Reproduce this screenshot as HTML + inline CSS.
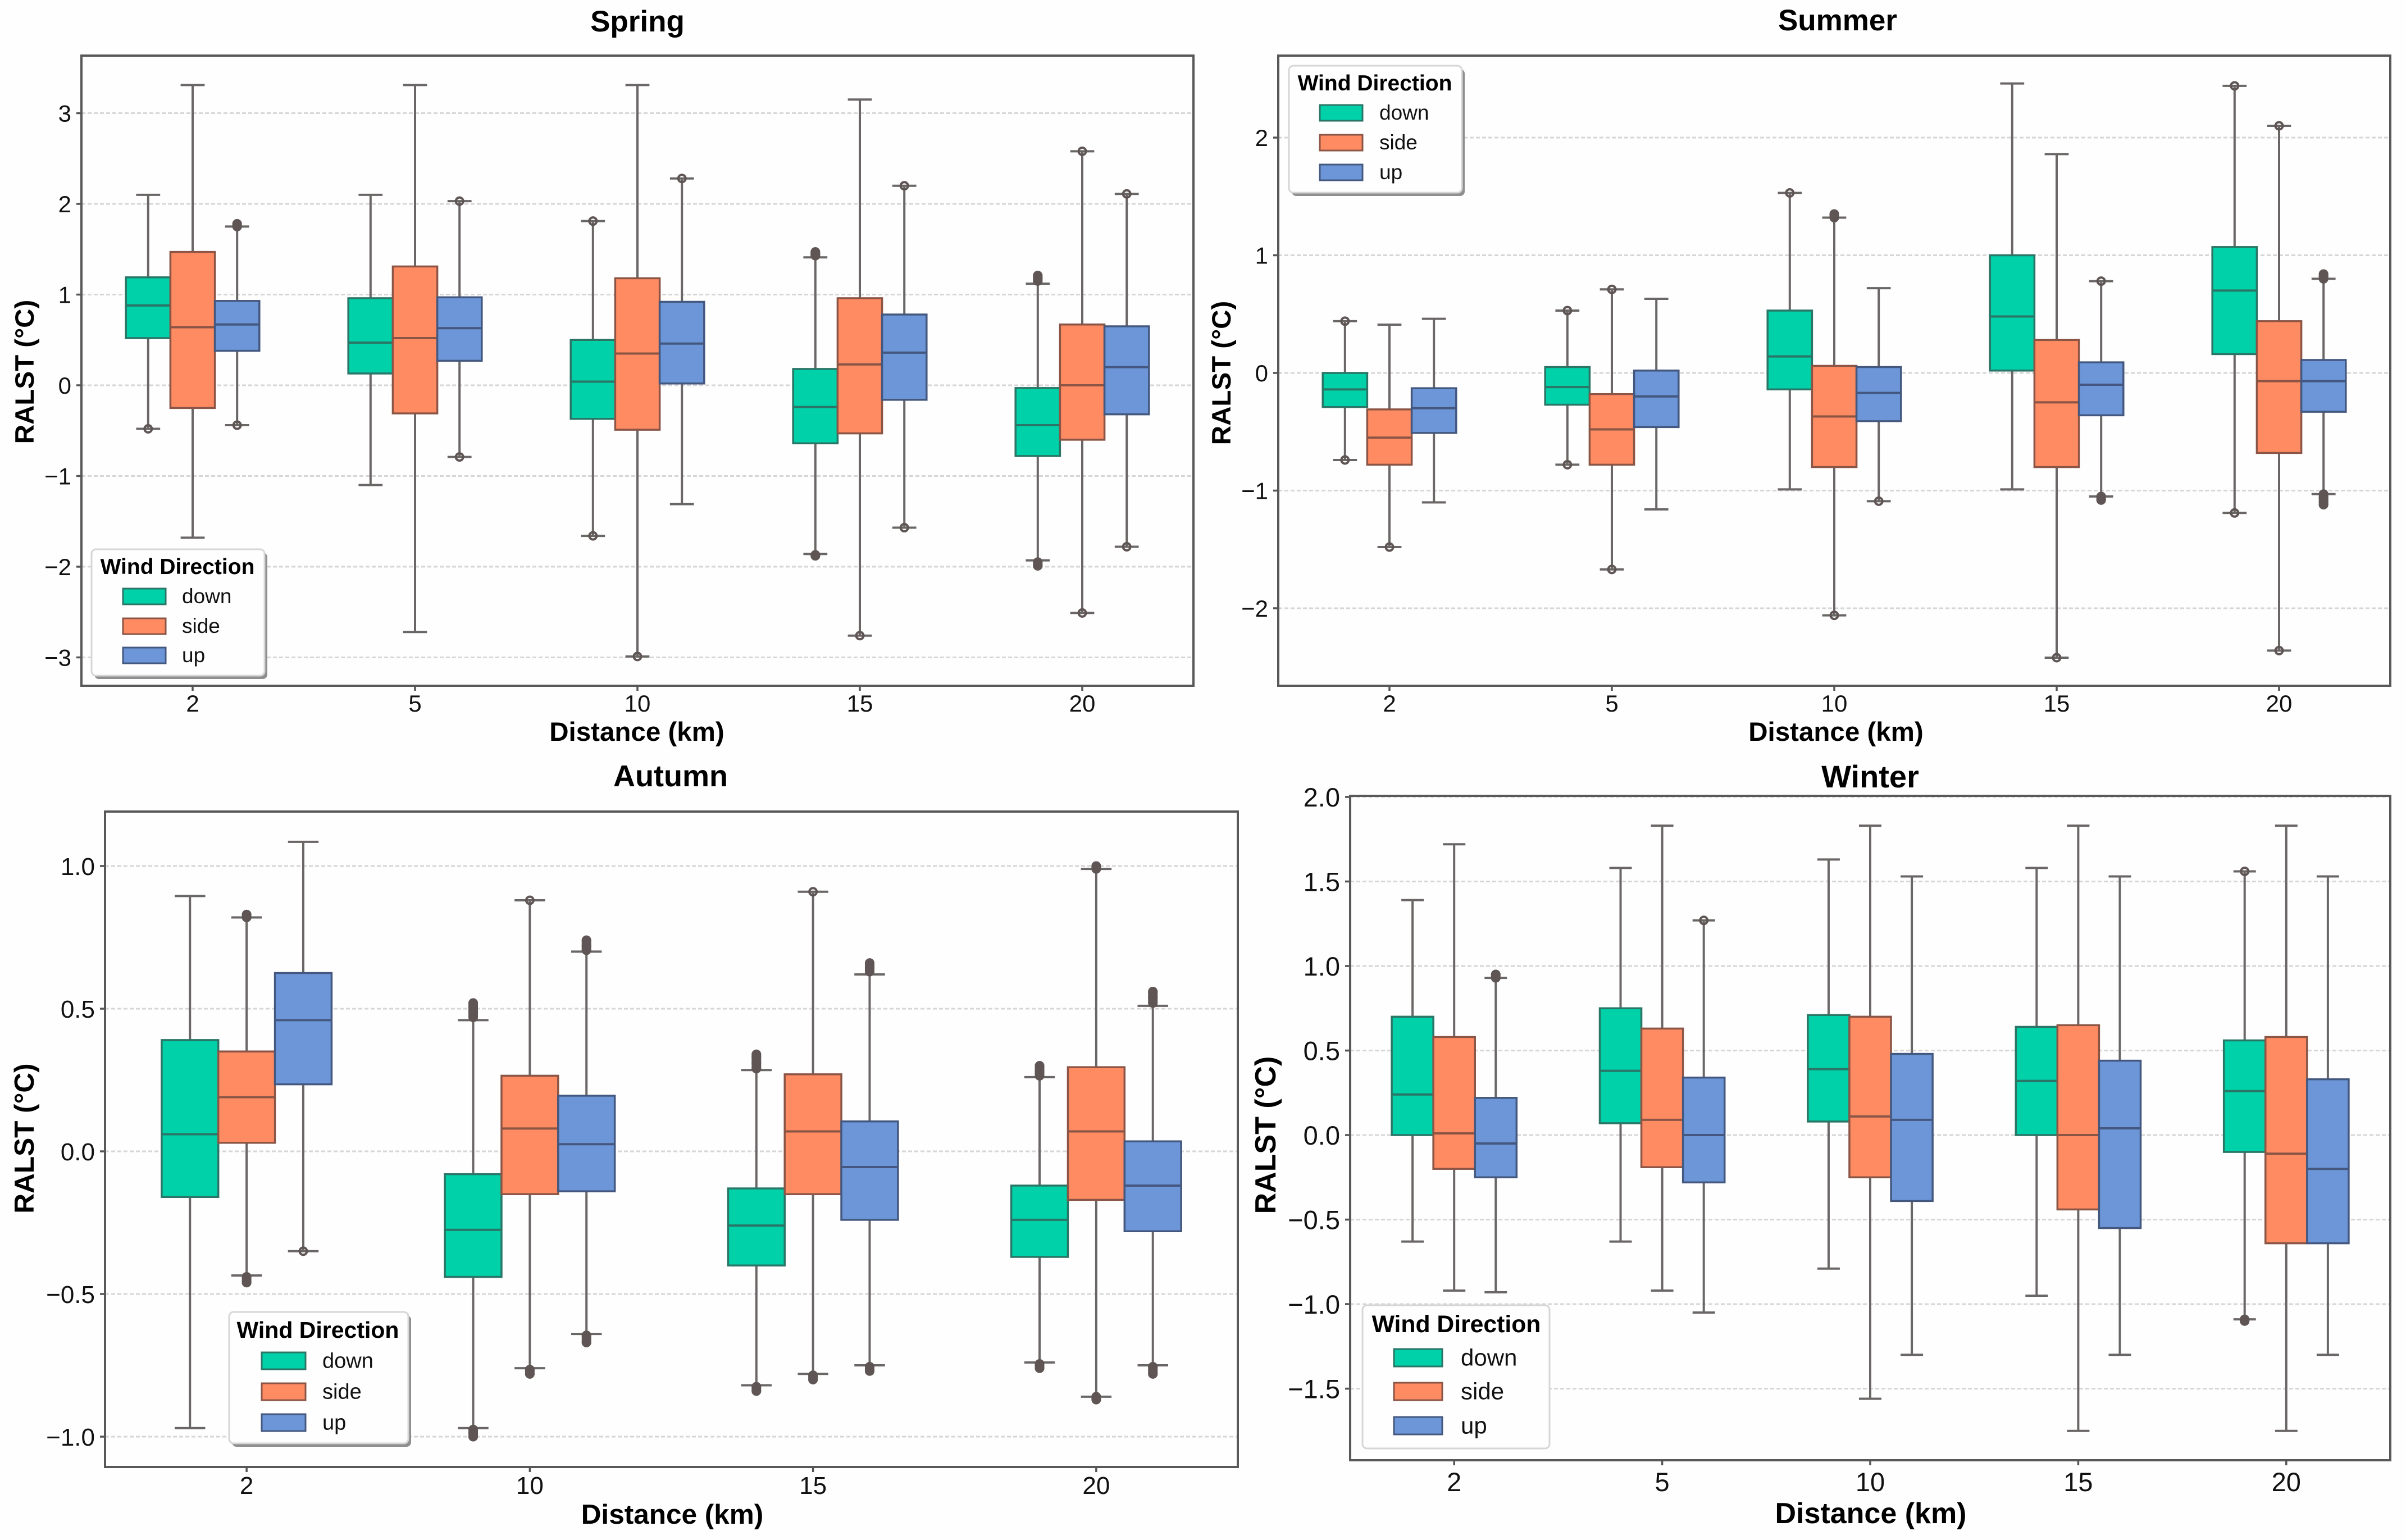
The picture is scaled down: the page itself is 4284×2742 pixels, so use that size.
<!DOCTYPE html>
<html lang="en">
<head>
<meta charset="utf-8">
<title>RALST by distance and wind direction</title>
<style>
html,body{margin:0;padding:0;background:#fefefe;}
svg{display:block;font-family:"Liberation Sans",Arial,sans-serif;}
</style>
</head>
<body>
<svg id="chart" xmlns="http://www.w3.org/2000/svg" width="4284" height="2742" viewBox="0 0 4284 2742"></svg>
<script>
// Each box row: [lower whisker, Q1, median, Q3, upper whisker], one row per distance.
const springCategories = ['2', '5', '10', '15', '20'];
const springTicks = [3, 2, 1, 0, -1, -2, -3];
const springDown = [[-0.48, 0.52, 0.88, 1.19, 2.10], [-1.10, 0.13, 0.47, 0.96, 2.10], [-1.66, -0.37, 0.04, 0.50, 1.81], [-1.86, -0.64, -0.24, 0.18, 1.41], [-1.93, -0.78, -0.44, -0.03, 1.12]];
const springSide = [[-1.68, -0.25, 0.64, 1.47, 3.31], [-2.72, -0.31, 0.52, 1.31, 3.31], [-2.99, -0.49, 0.35, 1.18, 3.31], [-2.76, -0.53, 0.23, 0.96, 3.15], [-2.51, -0.60, 0.00, 0.67, 2.58]];
const springUp = [[-0.44, 0.38, 0.67, 0.93, 1.75], [-0.79, 0.27, 0.63, 0.97, 2.03], [-1.31, 0.02, 0.46, 0.92, 2.28], [-1.57, -0.16, 0.36, 0.78, 2.20], [-1.78, -0.32, 0.20, 0.65, 2.11]];
const springDownOutliers = [[-0.48], [], [1.81, -1.66], [1.43, 1.45, 1.47, -1.87, -1.88], [1.15, 1.18, 1.21, -1.95, -1.99]];
const springSideOutliers = [[], [], [-2.99], [-2.76], [2.58, -2.51]];
const springUpOutliers = [[1.75, 1.78, -0.44], [2.03, -0.79], [2.28], [2.20, -1.57], [2.11, -1.78]];

const summerCategories = ['2', '5', '10', '15', '20'];
const summerTicks = [2, 1, 0, -1, -2];
const summerDown = [[-0.74, -0.29, -0.14, 0.00, 0.44], [-0.78, -0.27, -0.12, 0.05, 0.53], [-0.99, -0.14, 0.14, 0.53, 1.53], [-0.99, 0.02, 0.48, 1.00, 2.46], [-1.19, 0.16, 0.70, 1.07, 2.44]];
const summerSide = [[-1.48, -0.78, -0.55, -0.31, 0.41], [-1.67, -0.78, -0.48, -0.18, 0.71], [-2.06, -0.80, -0.37, 0.06, 1.32], [-2.42, -0.80, -0.25, 0.28, 1.86], [-2.36, -0.68, -0.07, 0.44, 2.10]];
const summerUp = [[-1.10, -0.51, -0.30, -0.13, 0.46], [-1.16, -0.46, -0.20, 0.02, 0.63], [-1.09, -0.41, -0.17, 0.05, 0.72], [-1.05, -0.36, -0.10, 0.09, 0.78], [-1.03, -0.33, -0.07, 0.11, 0.80]];
const summerDownOutliers = [[0.44, -0.74], [0.53, -0.78], [1.53], [], [2.44, -1.19]];
const summerSideOutliers = [[-1.48], [0.71, -1.67], [1.32, 1.35, -2.06], [-2.42], [2.10, -2.36]];
const summerUpOutliers = [[], [], [-1.09], [0.78, -1.05, -1.08], [0.80, 0.82, 0.84, -1.03, -1.06, -1.09, -1.12]];

const autumnCategories = ['2', '10', '15', '20'];
const autumnTicks = [1.0, 0.5, 0.0, -0.5, -1.0];
const autumnDown = [[-0.97, -0.16, 0.06, 0.39, 0.895], [-0.97, -0.44, -0.275, -0.08, 0.46], [-0.82, -0.40, -0.26, -0.13, 0.285], [-0.74, -0.37, -0.24, -0.12, 0.26]];
const autumnSide = [[-0.435, 0.03, 0.19, 0.35, 0.82], [-0.76, -0.15, 0.08, 0.265, 0.88], [-0.78, -0.15, 0.07, 0.27, 0.91], [-0.86, -0.17, 0.07, 0.295, 0.99]];
const autumnUp = [[-0.35, 0.235, 0.46, 0.625, 1.085], [-0.64, -0.14, 0.025, 0.195, 0.70], [-0.75, -0.24, -0.055, 0.105, 0.62], [-0.75, -0.28, -0.12, 0.035, 0.51]];
const autumnDownOutliers = [[], [0.47, 0.49, 0.51, 0.52, -0.975, -0.985, -1.0], [0.29, 0.31, 0.33, 0.34, -0.825, -0.84], [0.265, 0.28, 0.30, -0.745, -0.76]];
const autumnSideOutliers = [[0.82, 0.83, -0.44, -0.46], [0.88, -0.765, -0.78], [0.91, -0.785, -0.80], [0.99, 1.0, -0.86, -0.87]];
const autumnUpOutliers = [[-0.35], [0.705, 0.72, 0.74, -0.645, -0.67], [0.63, 0.645, 0.66, -0.755, -0.77], [0.52, 0.54, 0.56, -0.755, -0.78]];

const winterCategories = ['2', '5', '10', '15', '20'];
const winterTicks = [2.0, 1.5, 1.0, 0.5, 0.0, -0.5, -1.0, -1.5];
const winterDown = [[-0.63, 0.00, 0.24, 0.70, 1.39], [-0.63, 0.07, 0.38, 0.75, 1.58], [-0.79, 0.08, 0.39, 0.71, 1.63], [-0.95, 0.00, 0.32, 0.64, 1.58], [-1.09, -0.10, 0.26, 0.56, 1.56]];
const winterSide = [[-0.92, -0.20, 0.01, 0.58, 1.72], [-0.92, -0.19, 0.09, 0.63, 1.83], [-1.56, -0.25, 0.11, 0.70, 1.83], [-1.75, -0.44, 0.00, 0.65, 1.83], [-1.75, -0.64, -0.11, 0.58, 1.83]];
const winterUp = [[-0.93, -0.25, -0.05, 0.22, 0.93], [-1.05, -0.28, 0.00, 0.34, 1.27], [-1.30, -0.39, 0.09, 0.48, 1.53], [-1.30, -0.55, 0.04, 0.44, 1.53], [-1.30, -0.64, -0.20, 0.33, 1.53]];
const winterDownOutliers = [[], [], [], [], [1.56, -1.09, -1.10]];
const winterSideOutliers = [[], [], [], [], []];
const winterUpOutliers = [[0.93, 0.95], [1.27], [], [], []];

const seriesNames = ['down', 'side', 'up'];
const seriesFill = ['#00d1a9', '#ff8b63', '#6c96d8'];
const seriesEdge = ['#2a7566', '#8b5546', '#44587f'];

const SVGNS = 'http://www.w3.org/2000/svg';
const root = document.getElementById('chart');

function shape(parent, tag, props) {
  const el = document.createElementNS(SVGNS, tag);
  for (const k in props) el.setAttribute(k, props[k]);
  parent.appendChild(el);
  return el;
}
function label(parent, str, props) {
  const el = shape(parent, 'text', props);
  el.textContent = str;
  return el;
}

const background = shape(root, 'rect', {x: 0, y: 0, width: 4284, height: 2742, fill: '#fefefe'});



const panels = [
  {key: 'spring', title: 'Spring', cats: springCategories, ticks: springTicks, dec: 0,
   series: [springDown, springSide, springUp], outliers: [springDownOutliers, springSideOutliers, springUpOutliers],
   left: 145, right: 2125, top: 99, bottom: 1221, y0: 686, unit: 161.5,
   tickFont: 42, labelFont: 47.5, titleFont: 53, titleY: 56, xLabelY: 1319, xTickY: 1267, yLabelX: 60, yLabelY: 662, xLabelX: 1134, titleX: 1135,
   legend: {x: 163, y: 978, w: 308, h: 225, shadow: true, titleFont: 39, textFont: 37, titleX: 316, titleY: 1022, swX: 219, swW: 76, swH: 28, swY: [1048, 1101, 1153], textX: 324}},
  {key: 'summer', title: 'Summer', cats: summerCategories, ticks: summerTicks, dec: 0,
   series: [summerDown, summerSide, summerUp], outliers: [summerDownOutliers, summerSideOutliers, summerUpOutliers],
   left: 2276, right: 4256, top: 99, bottom: 1221, y0: 664, unit: 209.5,
   tickFont: 42, labelFont: 47.5, titleFont: 53, titleY: 54, xLabelY: 1319, xTickY: 1267, yLabelX: 2191, yLabelY: 664, xLabelX: 3269, titleX: 3272,
   legend: {x: 2295, y: 117, w: 308, h: 226, shadow: true, titleFont: 39, textFont: 37, titleX: 2448, titleY: 161, swX: 2350, swW: 76, swH: 28, swY: [187, 240, 293], textX: 2456}},
  {key: 'autumn', title: 'Autumn', cats: autumnCategories, ticks: autumnTicks, dec: 1,
   series: [autumnDown, autumnSide, autumnUp], outliers: [autumnDownOutliers, autumnSideOutliers, autumnUpOutliers],
   left: 187, right: 2204, top: 1445, bottom: 2612, y0: 2050, unit: 508,
   tickFont: 44, labelFont: 49.5, titleFont: 54, titleY: 1400, xLabelY: 2713, xTickY: 2660, yLabelX: 60, yLabelY: 2027, xLabelX: 1197, titleX: 1194,
   legend: {x: 408, y: 2336, w: 319, h: 234, shadow: true, titleFont: 41, textFont: 38, titleX: 566, titleY: 2382, swX: 466, swW: 78, swH: 30, swY: [2408, 2463, 2518], textX: 574}},
  {key: 'winter', title: 'Winter', cats: winterCategories, ticks: winterTicks, dec: 1,
   series: [winterDown, winterSide, winterUp], outliers: [winterDownOutliers, winterSideOutliers, winterUpOutliers],
   left: 2404, right: 4256, top: 1417, bottom: 2600, y0: 2021, unit: 301,
   tickFont: 47, labelFont: 52, titleFont: 56, titleY: 1402, xLabelY: 2712, xTickY: 2655, yLabelX: 2271, yLabelY: 2021, xLabelX: 3331, titleX: 3330,
   legend: {x: 2426, y: 2324, w: 333, h: 255, shadow: false, titleFont: 42.7, textFont: 42, titleX: 2593, titleY: 2372, swX: 2482, swW: 86, swH: 31, swY: [2402, 2462, 2523], textX: 2601}}
];

panels.forEach(function (p) {
  const yScale = function (v) { return p.y0 - v * p.unit; };
  const band = (p.right - p.left) / p.cats.length;
  const xScale = function (i, s) { return p.left + (i + 0.5) * band + (s - 1) * 0.2 * band; };
  const boxW = 0.2 * band;
  const capW = 0.54 * boxW;

  const g = shape(root, 'g', {});
  
  

  // Grid and y ticks
  p.ticks.forEach(function (t) {
    const y = yScale(t);
    const grid = shape(g, 'line', {x1: p.left, x2: p.right, y1: y, y2: y, stroke: '#d6d6d6', 'stroke-width': 3, 'stroke-dasharray': '7 4'});
    
    
    const tick = shape(g, 'line', {x1: p.left - 9, x2: p.left, y1: y, y2: y, stroke: '#555', 'stroke-width': 3.5});
    
    
    const txt = label(g, t.toFixed(p.dec).replace('-', '\u2212'), {x: p.left - 18, y: y + p.tickFont * 0.358, 'font-size': p.tickFont, 'text-anchor': 'end', fill: '#111'});
    
    
  });

  // Boxes
  p.series.forEach(function (rows, s) {
    rows.forEach(function (row, i) {
      const cx = xScale(i, s);
      const box = shape(g, 'g', {});
      
      
      const wLow = row[0], q1 = row[1], med = row[2], q3 = row[3], wHigh = row[4];
      const whiskers = '#6a6666';
      shape(box, 'line', {x1: cx, x2: cx, y1: yScale(wHigh), y2: yScale(q3), stroke: whiskers, 'stroke-width': 4});
      shape(box, 'line', {x1: cx, x2: cx, y1: yScale(q1), y2: yScale(wLow), stroke: whiskers, 'stroke-width': 4});
      shape(box, 'line', {x1: cx - capW / 2, x2: cx + capW / 2, y1: yScale(wHigh), y2: yScale(wHigh), stroke: whiskers, 'stroke-width': 4});
      shape(box, 'line', {x1: cx - capW / 2, x2: cx + capW / 2, y1: yScale(wLow), y2: yScale(wLow), stroke: whiskers, 'stroke-width': 4});
      // Close-packed outliers merge into a solid capsule, as overplotted rings do.
      const pts = p.outliers[s][i].map(yScale).sort(function (a, b) { return a - b; });
      pts.forEach(function (y, k) {
        shape(box, 'circle', {cx: cx, cy: y, r: 6.5, fill: 'none', stroke: '#5f5555', 'stroke-width': 4});
        if (k > 0 && y - pts[k - 1] < 14) {
          shape(box, 'line', {x1: cx, x2: cx, y1: pts[k - 1], y2: y, stroke: '#5f5555', 'stroke-width': 17, 'stroke-linecap': 'round'});
        }
      });
      shape(box, 'rect', {x: cx - boxW / 2, y: yScale(q3), width: boxW, height: yScale(q1) - yScale(q3), fill: seriesFill[s], stroke: seriesEdge[s], 'stroke-width': 3.5});
      shape(box, 'line', {x1: cx - boxW / 2, x2: cx + boxW / 2, y1: yScale(med), y2: yScale(med), stroke: seriesEdge[s], 'stroke-width': 4});
    });
  });

  // Spines
  const frame = shape(g, 'rect', {x: p.left, y: p.top, width: p.right - p.left, height: p.bottom - p.top, fill: 'none', stroke: '#585858', 'stroke-width': 4});
  
  

  // X ticks
  p.cats.forEach(function (c, i) {
    const x = xScale(i, 1);
    const tick = shape(g, 'line', {x1: x, x2: x, y1: p.bottom, y2: p.bottom + 9, stroke: '#555', 'stroke-width': 3.5});
    
    
    const txt = label(g, c, {x: x, y: p.xTickY, 'font-size': p.tickFont, 'text-anchor': 'middle', fill: '#111'});
    
    
  });

  // Titles
  const title = label(g, p.title, {x: p.titleX, y: p.titleY, 'font-size': p.titleFont, 'font-weight': 'bold', 'text-anchor': 'middle', fill: '#000'});
  
  
  const xTitle = label(g, 'Distance (km)', {x: p.xLabelX, y: p.xLabelY, 'font-size': p.labelFont, 'font-weight': 'bold', 'text-anchor': 'middle', fill: '#000'});
  
  
  const yTitle = label(g, 'RALST (\u00B0C)', {x: 0, y: 0, transform: 'translate(' + p.yLabelX + ' ' + p.yLabelY + ') rotate(-90)', 'font-size': p.labelFont, 'font-weight': 'bold', 'text-anchor': 'middle', fill: '#000'});
  
  

  // Legend
  const L = p.legend;
  const lg = shape(g, 'g', {});
  
  
  if (L.shadow) {
    shape(lg, 'rect', {x: L.x + 5, y: L.y + 6, width: L.w, height: L.h, rx: 8, fill: '#8f8f8f'});
  }
  shape(lg, 'rect', {x: L.x, y: L.y, width: L.w, height: L.h, rx: 8, fill: '#fefefe', stroke: '#d6d6d6', 'stroke-width': 3});
  const lt = label(lg, 'Wind Direction', {x: L.titleX, y: L.titleY, 'font-size': L.titleFont, 'font-weight': 'bold', 'text-anchor': 'middle', fill: '#000'});
  
  
  seriesNames.forEach(function (n, s) {
    const sw = shape(lg, 'rect', {x: L.swX, y: L.swY[s], width: L.swW, height: L.swH, fill: seriesFill[s], stroke: seriesEdge[s], 'stroke-width': 3});
    
    
    const t = label(lg, n, {x: L.textX, y: L.swY[s] + L.swH / 2 + L.textFont * 0.33, 'font-size': L.textFont, fill: '#111'});
    
    
  });
});
</script>
</body>
</html>
